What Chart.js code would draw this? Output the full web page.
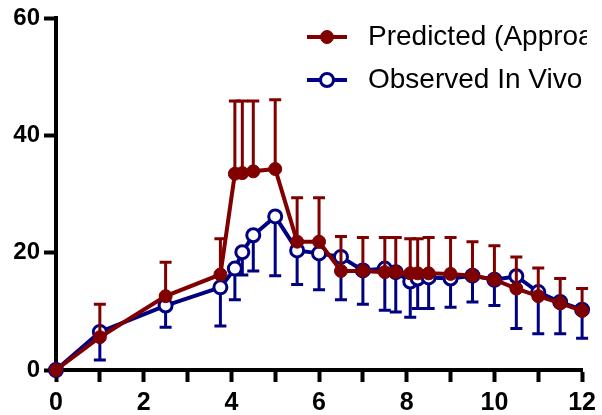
<!DOCTYPE html>
<html>
<head>
<meta charset="utf-8">
<script src="https://cdn.jsdelivr.net/npm/chart.js@4"></script>
<style>
  html, body { margin: 0; padding: 0; background: #fff; }
  canvas { display: block; }
</style>
</head>
<body>
<canvas id="chart" width="602" height="415"></canvas>
<script>
const times = [0, 1, 2.5, 3.75, 4.08, 4.25, 4.5, 5, 5.5, 6, 6.5, 7, 7.5, 7.75, 8.08, 8.25, 8.5, 9, 9.5, 10, 10.5, 11, 11.5, 12];
const predicted = [0, 5.6, 12.6, 16.3, 33.5, 33.6, 33.9, 34.3, 21.9, 21.9, 16.9, 16.9, 16.7, 16.7, 16.5, 16.5, 16.5, 16.4, 16.1, 15.4, 13.9, 12.6, 11.4, 10.1];
const predictedErr = [0, 5.6, 5.8, 6.1, 12.4, 12.3, 12.0, 11.8, 7.5, 7.5, 5.9, 5.7, 5.9, 5.9, 5.9, 5.9, 6.1, 6.2, 5.8, 5.8, 5.4, 4.8, 4.2, 3.8];
const observed = [0, 6.5, 11.0, 14.1, 17.3, 20.1, 23.0, 26.2, 20.4, 19.9, 19.3, 17.0, 17.3, 16.7, 15.1, 15.6, 15.8, 15.6, 16.1, 15.4, 16.0, 13.3, 11.6, 10.3];
const observedErr = [0, 4.8, 3.7, 6.6, 5.3, 3.9, 6.1, 10.1, 5.8, 6.2, 7.3, 5.8, 7.1, 6.8, 6.1, 5.1, 5.3, 4.9, 4.5, 4.4, 8.9, 7.1, 5.4, 4.9];
const yTicks = [0, 20, 40, 60];

const RED = '#800000';
const BLUE = '#000080';

// error bars: predicted goes up, observed goes down
const errorBars = {
  id: 'errorBars',
  beforeDatasetDraw(chart, args) {
    const ds = chart.data.datasets[args.index];
    const xs = chart.scales.x, ys = chart.scales.y;
    const ctx = chart.ctx;
    ctx.save();
    ctx.strokeStyle = ds.borderColor;
    ctx.lineWidth = 3;
    ds.data.forEach((p, i) => {
      const err = ds.errors[i];
      if (!err) return;
      const px = xs.getPixelForValue(p.x);
      const py = ys.getPixelForValue(p.y);
      const ey = ys.getPixelForValue(p.y + ds.errDir * err);
      ctx.beginPath();
      ctx.moveTo(px, py);
      ctx.lineTo(px, ey);
      ctx.moveTo(px - 6, ey);
      ctx.lineTo(px + 6, ey);
      ctx.stroke();
    });
    ctx.restore();
  }
};

// legend with a line and marker sample, text cut off at the right like the original
const sideLegend = {
  id: 'sideLegend',
  afterDraw(chart) {
    const ctx = chart.ctx;
    ctx.save();
    chart.data.datasets.forEach((ds, i) => {
      const y = 37 + i * 43;
      ctx.strokeStyle = ds.borderColor;
      ctx.lineWidth = 4;
      ctx.beginPath();
      ctx.moveTo(307, y);
      ctx.lineTo(347, y);
      ctx.stroke();
      ctx.beginPath();
      ctx.arc(327, y, ds.pointRadius, 0, Math.PI * 2);
      ctx.fillStyle = ds.pointBackgroundColor;
      ctx.fill();
      ctx.lineWidth = ds.pointBorderWidth;
      ctx.strokeStyle = ds.pointBorderColor;
      ctx.stroke();
      ctx.save();
      ctx.beginPath();
      ctx.rect(360, y - 25, 227, 50);
      ctx.clip();
      ctx.fillStyle = '#000';
      ctx.font = '28px "Liberation Sans", Arial, sans-serif';
      ctx.textBaseline = 'middle';
      ctx.fillText(ds.label, 368, y);
      ctx.restore();
    });
    ctx.restore();
  }
};

const tickFont = { family: '"Liberation Sans", Arial, sans-serif', size: 24, weight: 'bold' };

new Chart(document.getElementById('chart'), {
  type: 'line',
  data: {
    datasets: [{
      label: 'Predicted (Approach',
      data: times.map((t, i) => ({ x: t, y: predicted[i] })),
      errors: predictedErr,
      errDir: 1,
      borderColor: RED,
      backgroundColor: RED,
      pointBackgroundColor: RED,
      pointBorderColor: RED,
      pointBorderWidth: 1,
      pointRadius: 6.5,
      borderWidth: 4,
      clip: false
    },
    {
      label: 'Observed In Vivo',
      data: times.map((t, i) => ({ x: t, y: observed[i] })),
      errors: observedErr,
      errDir: -1,
      borderColor: BLUE,
      backgroundColor: '#fff',
      pointBackgroundColor: '#fff',
      pointBorderColor: BLUE,
      pointBorderWidth: 3,
      pointRadius: 6.5,
      borderWidth: 4,
      clip: false
    }]
  },
  options: {
    responsive: false,
    animation: false,
    devicePixelRatio: 1,
    layout: { padding: { top: 16, right: 17, left: 0, bottom: 0 } },
    plugins: { legend: { display: false }, tooltip: { enabled: false } },
    scales: {
      x: {
        type: 'linear',
        min: 0,
        max: 12,
        afterFit(scale) { scale.height = 45; },
        ticks: {
          stepSize: 1,
          color: '#000',
          font: { family: '"Liberation Sans", Arial, sans-serif', size: 25, weight: 'bold' },
          padding: 6,
          maxRotation: 0,
          autoSkip: false,
          callback: v => (v % 2 === 0 ? v : '')
        },
        grid: { drawOnChartArea: false, tickLength: 12, tickWidth: 4, tickColor: '#000' },
        border: { color: '#000', width: 4 }
      },
      y: {
        min: 0,
        max: 60,
        afterFit(scale) { scale.width = 56; },
        afterBuildTicks(scale) { scale.ticks = yTicks.map(v => ({ value: v })); },
        ticks: { color: '#000', font: tickFont, padding: 4 },
        grid: { drawOnChartArea: false, tickLength: 12, tickWidth: 4, tickColor: '#000' },
        border: { color: '#000', width: 4 }
      }
    }
  },
  plugins: [errorBars, sideLegend]
});
</script>
</body>
</html>
